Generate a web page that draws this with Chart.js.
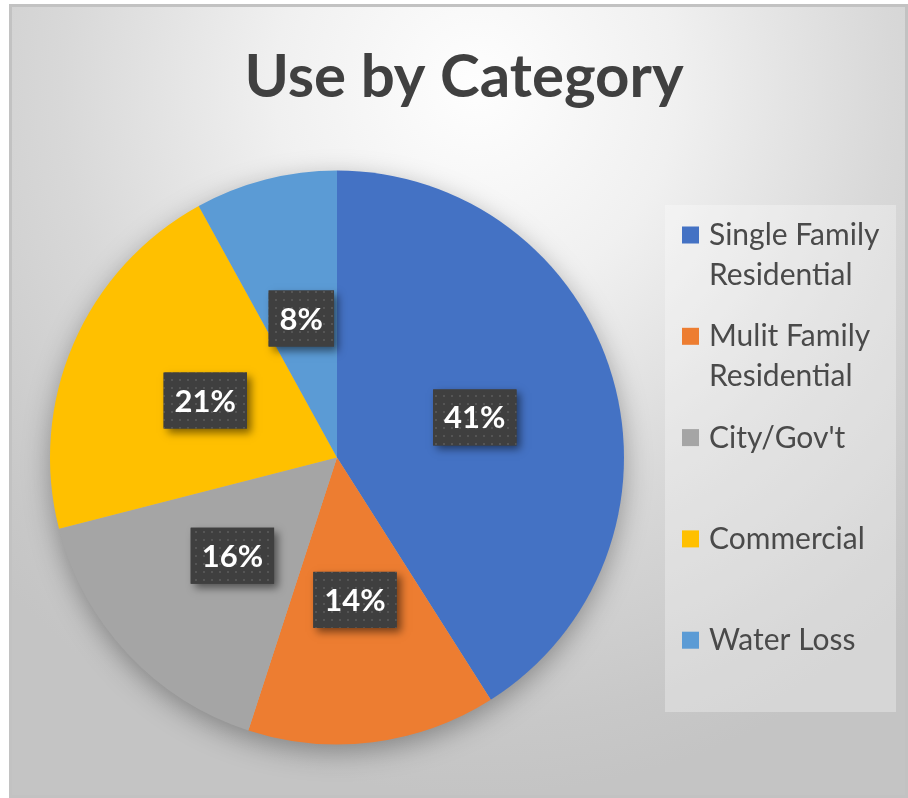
<!DOCTYPE html>
<html>
<head>
<meta charset="utf-8">
<title>Use by Category</title>
<script src="https://cdn.jsdelivr.net/npm/chart.js@4.4.1/dist/chart.umd.min.js"></script>
<style>
  html, body { margin: 0; padding: 0; background: #ffffff; }
  #wrap { position: relative; width: 908px; height: 798px; }
  #frame {
    position: absolute; left: 9px; top: 4px; width: 899px; height: 794px;
    box-sizing: border-box;
    border: 3px solid #c2c2c2;
    background: radial-gradient(ellipse 75% 90% at 52% 10%, #fefefe 0%, #f0f0f0 30%, #d8d8d8 62%, #c8c8c8 90%, #c4c4c4 100%);
  }
  #chart { position: absolute; left: 0; top: 0; }
</style>
</head>
<body>
<div id="wrap">
  <div id="frame"></div>
  <canvas id="chart" width="908" height="798"></canvas>
</div>
<script>
// --- Datos ---
const categorias = ['Single Family Residential', 'Mulit Family Residential', "City/Gov't", 'Commercial', 'Water Loss'];
const porcentajes = [41, 14, 16, 21, 8];
const colores = ['#4472C4', '#ED7D31', '#A5A5A5', '#FFC000', '#5B9BD5'];
const titulo = 'Use by Category';

const FUENTE = 'Lato, "Open Sans", sans-serif';

// patrón punteado para el fondo de las etiquetas
function crearPatron(ctx) {
    const c = document.createElement('canvas');
    c.width = 8; c.height = 8;
    const p = c.getContext('2d');
    p.fillStyle = '#3f3f3f';
    p.fillRect(0, 0, 8, 8);
    p.fillStyle = '#555555';
    p.fillRect(3, 3, 2, 2);
    return ctx.createPattern(c, 'repeat');
}

// sombra suave detrás del pastel
const sombraPastel = {
    id: 'sombraPastel',
    beforeDatasetsDraw(chart) {
        const arc = chart.getDatasetMeta(0).data[0];
        if (!arc) return;
        const ctx = chart.ctx;
        ctx.save();
        ctx.shadowColor = 'rgba(0,0,0,0.35)';
        ctx.shadowBlur = 28;
        ctx.shadowOffsetY = 8;
        ctx.fillStyle = '#b0b0b0';
        ctx.beginPath();
        ctx.arc(arc.x, arc.y, arc.outerRadius - 1, 0, Math.PI * 2);
        ctx.fill();
        ctx.restore();
    }
};

// etiquetas de porcentaje en cajas oscuras
const etiquetas = {
    id: 'etiquetas',
    afterDatasetsDraw(chart) {
        const ctx = chart.ctx;
        const patron = crearPatron(ctx);
        const valores = chart.data.datasets[0].data;
        chart.getDatasetMeta(0).data.forEach((arc, i) => {
            const pos = arc.tooltipPosition();
            const texto = valores[i] + '%';
            ctx.save();
            ctx.font = 'bold 31px ' + FUENTE;
            const w = ctx.measureText(texto).width + 22;
            const h = 56;
            const x = pos.x - w / 2, y = pos.y - h / 2;
            ctx.shadowColor = 'rgba(0,0,0,0.5)';
            ctx.shadowBlur = 8;
            ctx.shadowOffsetX = 4;
            ctx.shadowOffsetY = 4;
            ctx.fillStyle = '#404040';
            ctx.fillRect(x, y, w, h);
            ctx.shadowColor = 'transparent';
            ctx.fillStyle = patron;
            ctx.fillRect(x, y, w, h);
            ctx.fillStyle = '#ffffff';
            ctx.textAlign = 'center';
            ctx.textBaseline = 'middle';
            ctx.fillText(texto, pos.x, pos.y + 1);
            ctx.restore();
        });
    }
};

// título y leyenda dibujados a mano
const decorado = {
    id: 'decorado',
    afterDraw(chart) {
        const ctx = chart.ctx;
        ctx.save();
        ctx.fillStyle = '#404040';
        ctx.font = 'bold 60px ' + FUENTE;
        ctx.textAlign = 'center';
        ctx.textBaseline = 'alphabetic';
        ctx.fillText(titulo, 464, 97);

        // caja de la leyenda
        const lx = 665, ly = 205, lw = 231, lh = 507;
        ctx.fillStyle = 'rgba(255,255,255,0.3)';
        ctx.fillRect(lx, ly, lw, lh);

        ctx.font = '30px ' + FUENTE;
        ctx.textAlign = 'left';
        const maxAncho = lw - 50;
        chart.data.labels.forEach((lab, i) => {
            const cy = ly + 30 + i * 101.3;
            ctx.fillStyle = colores[i];
            ctx.fillRect(lx + 17, cy - 8.5, 17, 17);
            // partir el texto en líneas
            const palabras = lab.split(' ');
            const lineas = [];
            let actual = '';
            palabras.forEach(p => {
                const prueba = actual ? actual + ' ' + p : p;
                if (ctx.measureText(prueba).width > maxAncho && actual) {
                    lineas.push(actual);
                    actual = p;
                } else {
                    actual = prueba;
                }
            });
            lineas.push(actual);
            ctx.fillStyle = '#4a4a4a';
            lineas.forEach((l, j) => ctx.fillText(l, lx + 44, cy + 10 + j * 40));
        });
        ctx.restore();
    }
};

new Chart(document.getElementById('chart').getContext('2d'), {
    type: 'pie',
    data: {
        labels: categorias,
        datasets: [{
            data: porcentajes,
            backgroundColor: colores,
            borderWidth: 0
        }]
    },
    options: {
        responsive: false,
        animation: false,
        events: [],
        layout: { padding: { left: 50, top: 170, right: 284, bottom: 53 } },
        plugins: {
            legend: { display: false },
            title: { display: false },
            tooltip: { enabled: false }
        }
    },
    plugins: [sombraPastel, etiquetas, decorado]
});
</script>
</body>
</html>
